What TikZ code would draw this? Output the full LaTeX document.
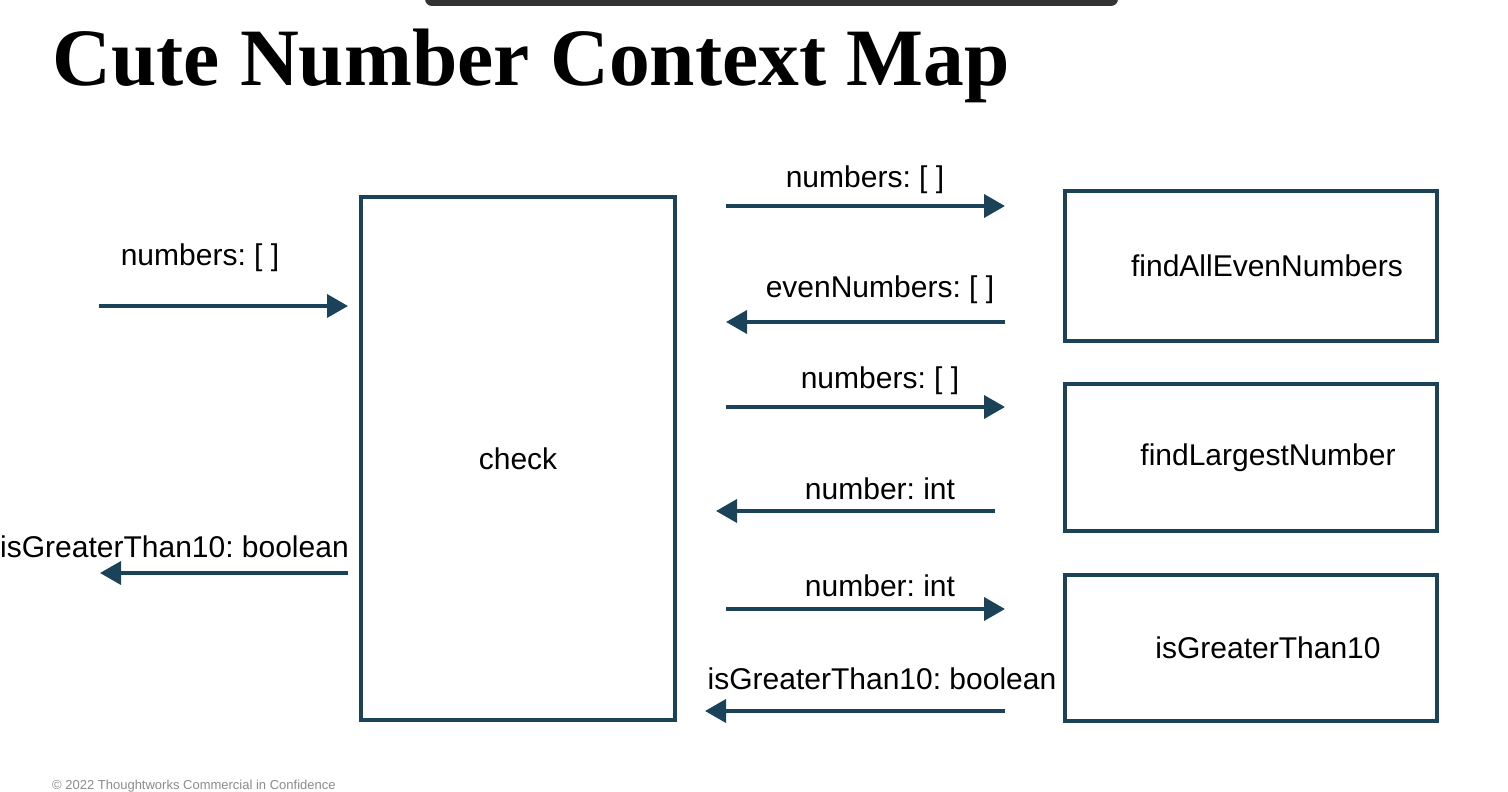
\documentclass[tikz,border=0pt]{standalone}
\usepackage{fontspec}
\setmainfont{Liberation Sans}
\newfontfamily\titlefont{Liberation Serif}
\usetikzlibrary{arrows.meta}
\definecolor{mapblue}{RGB}{26,66,88}
\definecolor{barblack}{RGB}{51,51,51}
\frenchspacing
\begin{document}
\begin{tikzpicture}
    [   x=1pt,y=-1pt,
        ctxbox/.style={draw=mapblue,line width=3.5pt,minimum width=#1,inner sep=0pt},
        msg/.style={draw=mapblue,line width=3.8pt,-{Triangle[length=21pt,width=23pt]}},
        lbl/.style={font=\fontsize{30}{31}\selectfont,text=black},
    ]
        \useasboundingbox (0,0) rectangle (1508,792);
        \clip (0,0) rectangle (1508,792);
        \fill[white] (0,0) rectangle (1508,792);
        \fill[barblack,rounded corners=7pt] (425,-12) rectangle (1118,6);
        % title and footer
        \node[anchor=base west,inner sep=0pt,font=\titlefont\bfseries\fontsize{81.5}{84}\selectfont] (title) at (52,85) {Cute Number Context Map};
        \node[anchor=base west,inner sep=0pt,text=black!45,font=\fontsize{13}{14}\selectfont] (footer) at (52,789) {\textcopyright{} 2022 Thoughtworks Commercial in Confidence};
        % contexts
        \node[ctxbox=314pt,minimum height=523pt,lbl] (check) at (518,458.5) {check};
        \node[ctxbox=372pt,minimum height=150pt,label={[lbl,xshift=16pt]center:findAllEvenNumbers}] (even) at (1251,266) {};
        \node[ctxbox=372pt,minimum height=147pt,label={[lbl,xshift=17pt]center:findLargestNumber}] (largest) at (1251,457.5) {};
        \node[ctxbox=372pt,minimum height=146pt,label={[lbl,xshift=17pt]center:isGreaterThan10}] (greater) at (1251,648) {};
        % input and output of check
        \coordinate (in-a) at (99,306);
        \coordinate (in-b) at (348,306);
        \coordinate (out-a) at (348,573);
        \coordinate (out-b) at (100,573);
        \draw[msg] (in-a) -- (in-b) node[lbl,above=29pt] at (200,306) {numbers: [ ]};
        \draw[msg] (out-a) -- (out-b) node[lbl,above=10pt,anchor=south east] at (354,573) {isGreaterThan10: boolean};
        % calls to the other contexts
        \foreach \i/\y/\xa/\xb/\xt/\d/\txt in {1/206/726/1005/865/7/{numbers: [ ]},3/407/726/1005/880/7/{numbers: [ ]},5/609/726/1005/880/7/{number: int}}
        {   \coordinate (l-\i) at (\xa,\y);
            \coordinate (r-\i) at (\xb,\y);
            \draw[msg] (l-\i) -- (r-\i) node[lbl,above=\d pt] at (\xt,\y) {\txt};
        }
        \foreach \i/\y/\xa/\xb/\xt/\d/\txt in {2/322/726/1005/880/13/{evenNumbers: [ ]},4/511/716/995/880/6/{number: int},6/711/705/1005/882/16/{isGreaterThan10: boolean}}
        {   \coordinate (l-\i) at (\xa,\y);
            \coordinate (r-\i) at (\xb,\y);
            \draw[msg] (r-\i) -- (l-\i) node[lbl,above=\d pt] at (\xt,\y) {\txt};
        }
\end{tikzpicture}
\end{document}
